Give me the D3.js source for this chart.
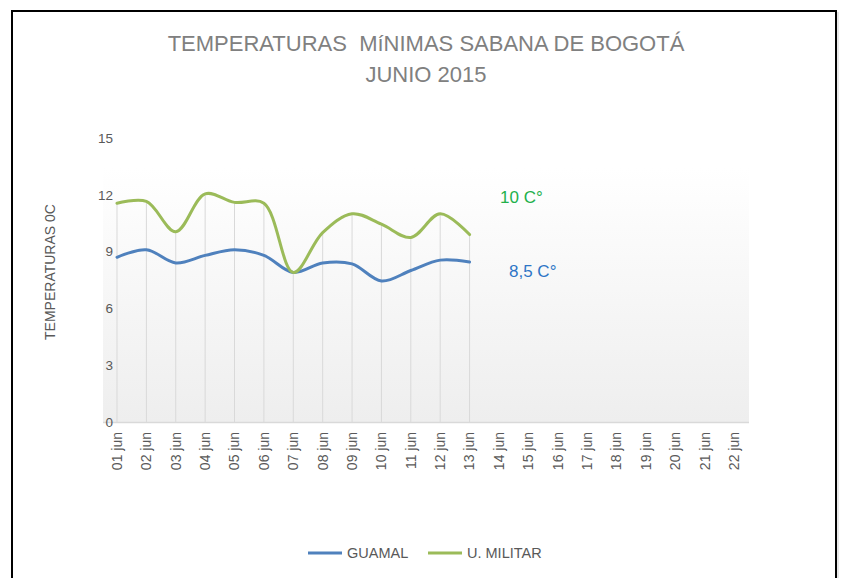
<!DOCTYPE html>
<html>
<head>
<meta charset="utf-8">
<script src="https://cdn.jsdelivr.net/npm/d3@7"></script>
<style>
  body { margin: 0; background: #fff; }
  svg { display: block; }
  text { white-space: pre; }
</style>
</head>
<body>
<svg id="chart"></svg>
<script>
const totalWidth = 841;
const totalHeight = 578;

// data
const days = ["01 jun", "02 jun", "03 jun", "04 jun", "05 jun", "06 jun", "07 jun", "08 jun",
  "09 jun", "10 jun", "11 jun", "12 jun", "13 jun", "14 jun", "15 jun", "16 jun", "17 jun",
  "18 jun", "19 jun", "20 jun", "21 jun", "22 jun"];
const guamal = [8.7, 9.1, 8.4, 8.8, 9.1, 8.8, 7.9, 8.4, 8.35, 7.45, 8.0, 8.55, 8.45];
const militar = [11.55, 11.65, 10.05, 12.05, 11.6, 11.55, 7.9, 10.0, 11.0, 10.45, 9.75, 11.0, 9.9];
const yTicks = [0, 3, 6, 9, 12, 15];
const titleLines = ["TEMPERATURAS  MíNIMAS SABANA DE BOGOTÁ", "JUNIO 2015"];
const seriesNames = ["GUAMAL", "U. MILITAR"];
const notes = ["8,5 C°", "10 C°"];

const font = "'Liberation Sans', Arial, sans-serif";
const blue = "#4f81bd";
const green = "#9bbb59";
const gray = "#595959";

const svg = d3.select("#chart")
  .attr("width", totalWidth)
  .attr("height", totalHeight);

// frame
svg.append("path")
  .attr("d", "M12,600 V11 H836 V600")
  .style("fill", "none")
  .style("stroke", "#000")
  .style("stroke-width", 2);
svg.append("line")
  .attr("x1", 838).attr("x2", 838).attr("y1", 12).attr("y2", 578)
  .style("stroke", "#d0d0d0");

// title
svg.selectAll(".title")
  .data(titleLines)
  .enter()
  .append("text")
  .attr("x", 426)
  .attr("y", (d, i) => 51 + i * 31)
  .attr("text-anchor", "middle")
  .attr("font-family", font)
  .attr("font-size", "22px")
  .attr("fill", "#808080")
  .text(d => d);

const x = d3.scalePoint().domain(days).range([117, 734]);
const y = d3.scaleLinear().domain([0, 15]).range([422, 138]);

// plot area gradient
const grad = svg.append("defs").append("linearGradient")
  .attr("id", "bg").attr("x1", 0).attr("y1", 0).attr("x2", 0).attr("y2", 1);
grad.append("stop").attr("offset", "0%").attr("stop-color", "#ffffff");
grad.append("stop").attr("offset", "100%").attr("stop-color", "#eeeeee");
svg.append("rect")
  .attr("x", 103).attr("y", 168)
  .attr("width", 646).attr("height", y(0) - 168)
  .style("fill", "url(#bg)");

// drop lines
svg.selectAll(".drop")
  .data(militar)
  .enter()
  .append("line")
  .attr("x1", (d, i) => x(days[i]))
  .attr("x2", (d, i) => x(days[i]))
  .attr("y1", d => y(d))
  .attr("y2", y(0))
  .style("stroke", "#d9d9d9")
  .style("stroke-width", 1);

// x axis line
svg.append("line")
  .attr("x1", 103).attr("x2", 749)
  .attr("y1", y(0) + 0.5).attr("y2", y(0) + 0.5)
  .style("stroke", "#d9d9d9")
  .style("stroke-width", 1.5);

// y labels
svg.selectAll(".ylab")
  .data(yTicks)
  .enter()
  .append("text")
  .attr("x", 113)
  .attr("y", d => y(d))
  .attr("dy", "0.35em")
  .attr("text-anchor", "end")
  .attr("font-family", font)
  .attr("font-size", "13.5px")
  .attr("fill", gray)
  .text(d => d);

// x labels
svg.selectAll(".xlab")
  .data(days)
  .enter()
  .append("text")
  .attr("transform", d => `translate(${x(d)},432) rotate(-90)`)
  .attr("dy", "0.35em")
  .attr("text-anchor", "end")
  .attr("font-family", font)
  .attr("font-size", "14px")
  .attr("fill", gray)
  .text(d => d);

// y axis title
svg.append("text")
  .attr("transform", "translate(50,272) rotate(-90)")
  .attr("dy", "0.35em")
  .attr("text-anchor", "middle")
  .attr("font-family", font)
  .attr("font-size", "14px")
  .attr("fill", gray)
  .text("TEMPERATURAS 0C");

// lines
const line = d3.line()
  .x((d, i) => x(days[i]))
  .y(d => y(d))
  .curve(d3.curveCatmullRom.alpha(0.5));

[[guamal, blue], [militar, green]].forEach(([vals, col]) => {
  svg.append("path")
    .attr("d", line(vals))
    .style("fill", "none")
    .style("stroke", col)
    .style("stroke-width", 3)
    .style("stroke-linecap", "round");
});

// annotations
svg.append("text")
  .attr("x", 500).attr("y", 203)
  .attr("font-family", font)
  .attr("font-size", "17px")
  .attr("fill", "#22b04b")
  .text(notes[1]);
svg.append("text")
  .attr("x", 509).attr("y", 277)
  .attr("font-family", font)
  .attr("font-size", "17px")
  .attr("fill", "#2e75c6")
  .text(notes[0]);

// legend
const legend = svg.selectAll(".leg")
  .data(seriesNames)
  .enter()
  .append("g")
  .attr("transform", (d, i) => `translate(${308 + i * 120},553)`);
legend.append("line")
  .attr("x1", 0).attr("x2", 34)
  .style("stroke", (d, i) => i === 0 ? blue : green)
  .style("stroke-width", 3);
legend.append("text")
  .attr("x", 39)
  .attr("dy", "0.35em")
  .attr("font-family", font)
  .attr("font-size", "14.5px")
  .attr("fill", gray)
  .text(d => d);
</script>
</body>
</html>
